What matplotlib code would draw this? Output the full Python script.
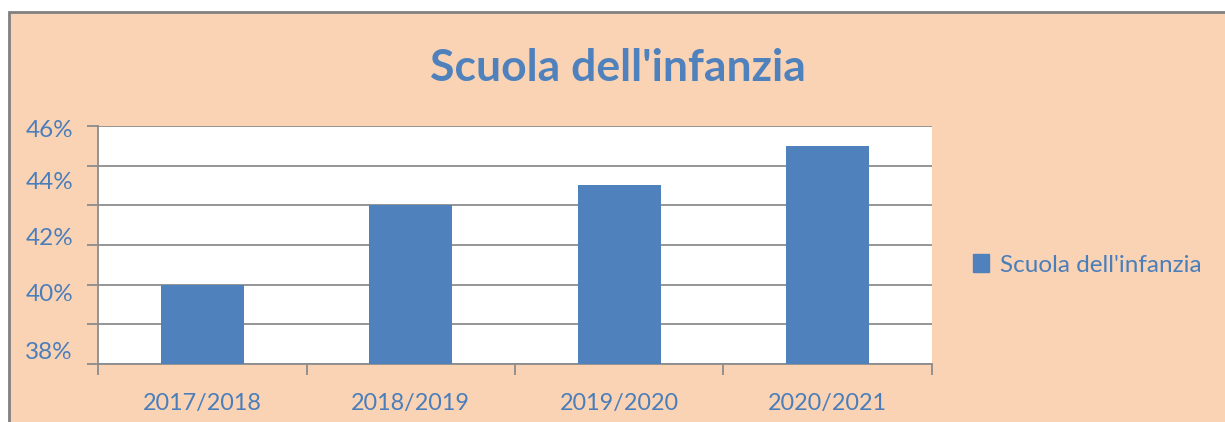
import matplotlib
matplotlib.use("Agg")
import matplotlib.pyplot as plt
from matplotlib.patches import Rectangle
import numpy as np

# Data
categories = ["2017/2018", "2018/2019", "2019/2020", "2020/2021"]
values = [40.66, 43.34, 44.02, 45.33]  # percent
series_name = "Scuola dell'infanzia"
ytick_labels = ["38%", "40%", "42%", "44%", "46%"]
ytick_label_pos = [38.47, 40.42, 42.27, 44.18, 45.93]

BLUE = "#4F81BD"
TEXT = "#4A7EBB"
PEACH = "#FAD3B4"
GRID = "#8C8C8C"

plt.rcParams["font.family"] = ["Lato", "DejaVu Sans"]

W, H = 1225, 422
fig = plt.figure(figsize=(W / 100, H / 100), dpi=100)
fig.patch.set_facecolor("white")

# chart area background with border
fig.patches.append(Rectangle((9 / W, -0.1), 1.2, (H - 12) / H + 0.1,
                             transform=fig.transFigure, facecolor=PEACH,
                             edgecolor="#808080", linewidth=2, zorder=-5))

x0, x1, ytop, ybot = 98, 932, 126, 364
ax = fig.add_axes([x0 / W, (H - ybot) / H, (x1 - x0) / W, (ybot - ytop) / H])
ax.set_zorder(2)
ax.set_facecolor("white")

x = np.arange(len(categories))
ax.bar(x, np.array(values) - 38, bottom=38, width=0.40, color=BLUE, zorder=3)

ax.set_xlim(-0.5, len(categories) - 0.5)
ax.set_ylim(38, 46)

grid = np.linspace(38, 46, 7)
ax.set_yticks(grid)
ax.set_yticklabels([])
ax.set_yticks(ytick_label_pos, minor=True)
ax.set_yticklabels(ytick_labels, minor=True)
ax.tick_params(axis="y", which="major", length=8, width=1.3, color=GRID)
ax.tick_params(axis="y", which="minor", length=0, pad=18, labelsize=17.5, labelcolor=TEXT)
ax.grid(axis="y", which="major", color=GRID, linewidth=1.3, zorder=1)

ax.set_xticks(np.arange(len(categories) + 1) - 0.5)
ax.set_xticklabels([])
ax.set_xticks(x, minor=True)
ax.set_xticklabels(categories, minor=True)
ax.tick_params(axis="x", which="major", length=8, width=1.3, color=GRID)
ax.tick_params(axis="x", which="minor", length=0, pad=21, labelsize=16.8, labelcolor=TEXT)

for s in ["top", "right"]:
    ax.spines[s].set_visible(False)
for s in ["left", "bottom"]:
    ax.spines[s].set_color(GRID)
    ax.spines[s].set_linewidth(1.3)

fig.text(618 / W, 1 - 68 / H, series_name, ha="center", va="center",
         fontsize=32, fontweight="bold", color=BLUE)

# legend
handle = Rectangle((0, 0), 1, 1, color=BLUE)
fig.legend([handle], [series_name], loc="center left",
           bbox_to_anchor=(951 / W, 1 - 265 / H), frameon=False,
           fontsize=17.5, labelcolor=TEXT, handlelength=0.65, handleheight=0.7,
           handletextpad=0.45)

fig.savefig("out.png", dpi=100, facecolor=fig.get_facecolor())
